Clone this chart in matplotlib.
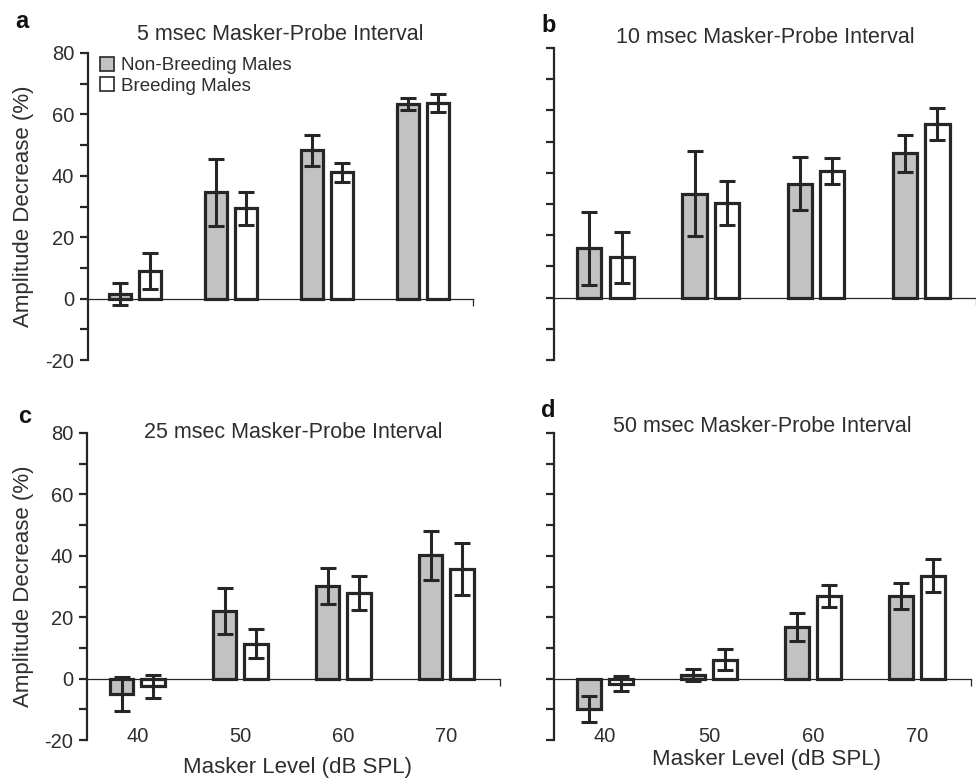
import matplotlib.pyplot as plt
from matplotlib.patches import Patch
from matplotlib.ticker import MultipleLocator

plt.rcParams['font.family'] = ['Liberation Sans', 'DejaVu Sans']
plt.rcParams['axes.unicode_minus'] = False

# valores (diminuição de amplitude em %)
niveis = ['40', '50', '60', '70']
titulos = ['5 msec Masker-Probe Interval', '10 msec Masker-Probe Interval',
           '25 msec Masker-Probe Interval', '50 msec Masker-Probe Interval']
letras = ['a', 'b', 'c', 'd']

nao_reprod_a = [1.5, 34.6, 48.3, 63.5]
nao_reprod_a_err = [3.7, 10.8, 5.0, 2.0]
reprod_a = [9.0, 29.4, 41.1, 63.7]
reprod_a_err = [5.8, 5.4, 3.2, 2.8]

nao_reprod_b = [15.8, 33.3, 36.5, 46.3]
nao_reprod_b_err = [11.7, 13.7, 8.5, 5.9]
reprod_b = [12.9, 30.3, 40.7, 55.7]
reprod_b_err = [8.2, 7.1, 4.2, 5.1]

nao_reprod_c = [-5.0, 22.1, 30.1, 40.2]
nao_reprod_c_err = [5.4, 7.5, 5.9, 8.0]
reprod_c = [-2.5, 11.4, 27.9, 35.7]
reprod_c_err = [3.8, 4.7, 5.4, 8.4]

nao_reprod_d = [-9.8, 1.1, 16.9, 27.0]
nao_reprod_d_err = [4.2, 2.0, 4.6, 4.2]
reprod_d = [-1.6, 6.2, 27.0, 33.5]
reprod_d_err = [2.6, 3.4, 3.6, 5.3]

cinza = '#c2c2c2'
preto = '#262626'
texto = '#2e2e2e'

fig = plt.figure(figsize=(9.76, 7.81), dpi=100)

# posições dos painéis em pixels: esquerda, topo(80), direita, base(-20)
caixas = [(88, 53, 473, 360), (554, 48, 976, 360),
          (87, 433, 500, 740), (554, 433, 971, 740)]
titulo_y = [1.059, 1.035, 1.003, 1.02]
letra_pos = [(15, 28), (541, 32), (18, 423), (541, 417)]

series = [(nao_reprod_a, nao_reprod_a_err, reprod_a, reprod_a_err),
          (nao_reprod_b, nao_reprod_b_err, reprod_b, reprod_b_err),
          (nao_reprod_c, nao_reprod_c_err, reprod_c, reprod_c_err),
          (nao_reprod_d, nao_reprod_d_err, reprod_d, reprod_d_err)]

largura = 0.23
desloc = 0.154
W, H = 976, 781

for k in range(4):
    x0, y0, x1, y1 = caixas[k]
    ax = fig.add_axes([x0 / W, 1 - y1 / H, (x1 - x0) / W, (y1 - y0) / H])
    nr, nr_err, r, r_err = series[k]
    pos = list(range(len(niveis)))
    p1 = [p - desloc for p in pos]
    p2 = [p + desloc for p in pos]

    ax.bar(p1, nr, width=largura, color=cinza, edgecolor=preto, linewidth=2.3, zorder=2)
    ax.bar(p2, r, width=largura, color='white', edgecolor=preto, linewidth=2.3, zorder=2)
    ax.errorbar(p1, nr, yerr=nr_err, fmt='none', ecolor=preto, elinewidth=2.2,
                capsize=5.5, capthick=2.2, zorder=3)
    ax.errorbar(p2, r, yerr=r_err, fmt='none', ecolor=preto, elinewidth=2.2,
                capsize=5.5, capthick=2.2, zorder=3)

    ax.set_xlim(-0.49, 3.52)
    ax.set_ylim(-20, 80)

    # eixos
    ax.spines['top'].set_visible(False)
    ax.spines['right'].set_visible(False)
    ax.spines['left'].set_linewidth(1.6)
    ax.spines['left'].set_color(preto)
    ax.spines['bottom'].set_position(('data', 0))
    ax.spines['bottom'].set_linewidth(0.9)
    ax.spines['bottom'].set_color(preto)
    ax.set_xticks([3.52])
    ax.set_xticklabels([''])
    ax.tick_params(axis='x', direction='out', length=5, width=0.9, color=preto)

    ax.yaxis.set_major_locator(MultipleLocator(20))
    ax.yaxis.set_minor_locator(MultipleLocator(10))
    ax.tick_params(axis='y', which='both', direction='out', length=6, width=1.6,
                   color=preto, labelsize=14.5, labelcolor=texto, pad=4)
    if k in (1, 3):
        ax.tick_params(axis='y', labelleft=False)
    else:
        ax.set_ylabel('Amplitude Decrease (%)', fontsize=16, color=texto)
        ax.yaxis.set_label_coords((34 - x0) / (x1 - x0), 0.5)

    if k >= 2:
        for p, lab in zip(pos, niveis):
            ax.text(p, -18.8, lab, ha='center', va='center', fontsize=14.5, color=texto)
        xl_y = -0.091 if k == 2 else -0.065
        ax.text(0.51, xl_y, 'Masker Level (dB SPL)', transform=ax.transAxes,
                ha='center', va='center', fontsize=16, color=texto)

    ax.text(0.5, titulo_y[k], titulos[k], transform=ax.transAxes, ha='center',
            va='center', fontsize=15.5, color=texto)
    fig.text(letra_pos[k][0] / W, 1 - letra_pos[k][1] / H, letras[k],
             fontsize=17, fontweight='bold', va='baseline', ha='left', color='#111111')

    if k == 0:
        alcas = [Patch(facecolor=cinza, edgecolor=preto, linewidth=1.2),
                 Patch(facecolor='white', edgecolor=preto, linewidth=1.2)]
        ax.legend(alcas, ['Non-Breeding Males', 'Breeding Males'], loc='upper left',
                  bbox_to_anchor=((100 - x0) / (x1 - x0), (y1 - 57) / (y1 - y0)),
                  frameon=False, fontsize=13.5, handlelength=0.75, handleheight=0.75,
                  handletextpad=0.35, labelspacing=0.15, borderpad=0, borderaxespad=0,
                  labelcolor=texto)

fig.savefig('out.png', dpi=100)
